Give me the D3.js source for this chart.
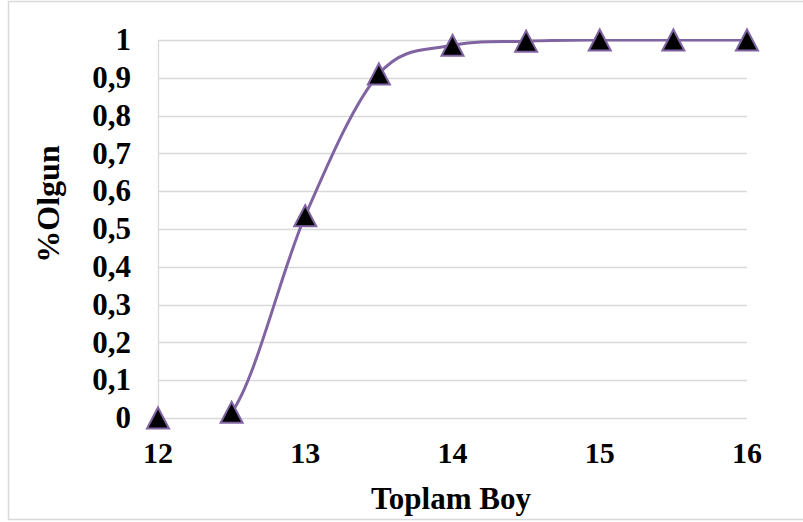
<!DOCTYPE html>
<html>
<head>
<meta charset="utf-8">
<script src="https://cdn.jsdelivr.net/npm/d3@7"></script>
<style>
  html, body { margin: 0; padding: 0; background: #fff; }
  svg { display: block; }
  text { font-family: "Liberation Serif", "Times New Roman", serif; font-weight: bold; fill: #000; }
</style>
</head>
<body>
<svg id="chart" width="803" height="522"></svg>
<script>
// Proportion of mature fish by total length
const lengths = [12, 12.5, 13, 13.5, 14, 14.5, 15, 15.5, 16];
const matureShare = [0, 0.015, 0.535, 0.91, 0.986, 0.997, 1, 1, 1];
const xTicks = [12, 13, 14, 15, 16];
const yTicks = [0, 0.1, 0.2, 0.3, 0.4, 0.5, 0.6, 0.7, 0.8, 0.9, 1];
const xTitle = "Toplam Boy";
const yTitle = "%Olgun";

const svg = d3.select("#chart");
const W = 803, H = 522;
const plot = { left: 158, right: 747, top: 40, bottom: 418 };
const lineColor = "#8064a2";
const gridColor = "#d9d9d9";

const x = d3.scaleLinear().domain([12, 16]).range([plot.left, plot.right]);
const y = d3.scaleLinear().domain([0, 1]).range([plot.bottom, plot.top]);

// chart frame
svg.append("rect")
  .attr("x", 8.5).attr("y", 1.5)
  .attr("width", W).attr("height", 518)
  .attr("fill", "#fff").attr("stroke", gridColor).attr("stroke-width", 1.5);

// horizontal gridlines
svg.append("g")
  .selectAll("line")
  .data(yTicks)
  .join("line")
  .attr("x1", plot.left).attr("x2", plot.right)
  .attr("y1", d => Math.round(y(d)) + 0.5).attr("y2", d => Math.round(y(d)) + 0.5)
  .attr("stroke", gridColor).attr("stroke-width", 1.3);

// vertical axis line
svg.append("line")
  .attr("x1", plot.left + 0.5).attr("x2", plot.left + 0.5)
  .attr("y1", plot.top).attr("y2", plot.bottom)
  .attr("stroke", gridColor).attr("stroke-width", 1.3);

// y tick labels
const fmt = v => String(v).replace(".", ",");
svg.append("g")
  .selectAll("text")
  .data(yTicks)
  .join("text")
  .attr("x", 131)
  .attr("y", d => y(d))
  .attr("dy", "0.33em")
  .attr("text-anchor", "end")
  .attr("font-size", 31)
  .text(d => fmt(d));

// x tick labels
svg.append("g")
  .selectAll("text")
  .data(xTicks)
  .join("text")
  .attr("x", d => x(d))
  .attr("y", 463)
  .attr("text-anchor", "middle")
  .attr("font-size", 30)
  .text(d => d);

// axis titles
svg.append("text")
  .attr("x", 451).attr("y", 509)
  .attr("text-anchor", "middle")
  .attr("font-size", 31)
  .text(xTitle);

svg.append("text")
  .attr("transform", "translate(59,204) rotate(-90)")
  .attr("text-anchor", "middle")
  .attr("font-size", 32)
  .text(yTitle);

// smoothed line, clipped to the plot area
svg.append("clipPath").attr("id", "plotClip")
  .append("rect")
  .attr("x", plot.left).attr("y", plot.top - 1)
  .attr("width", plot.right - plot.left + 20).attr("height", plot.bottom - plot.top + 1);

const pts = lengths.map((v, i) => [v, matureShare[i]]);
const line = d3.line()
  .x(d => x(d[0]))
  .y(d => y(d[1]))
  .curve(d3.curveCardinal.tension(0));

svg.append("path")
  .datum(pts)
  .attr("clip-path", "url(#plotClip)")
  .attr("d", line)
  .attr("fill", "none")
  .attr("stroke", lineColor)
  .attr("stroke-width", 3);

// triangle markers
const tri = "M0,-10.5L11,10.5L-11,10.5Z";
svg.append("g")
  .selectAll("path")
  .data(pts)
  .join("path")
  .attr("transform", d => `translate(${x(d[0])},${y(d[1])})`)
  .attr("d", tri)
  .attr("fill", "#000")
  .attr("stroke", lineColor)
  .attr("stroke-width", 2)
  .attr("stroke-linejoin", "miter");
</script>
</body>
</html>
